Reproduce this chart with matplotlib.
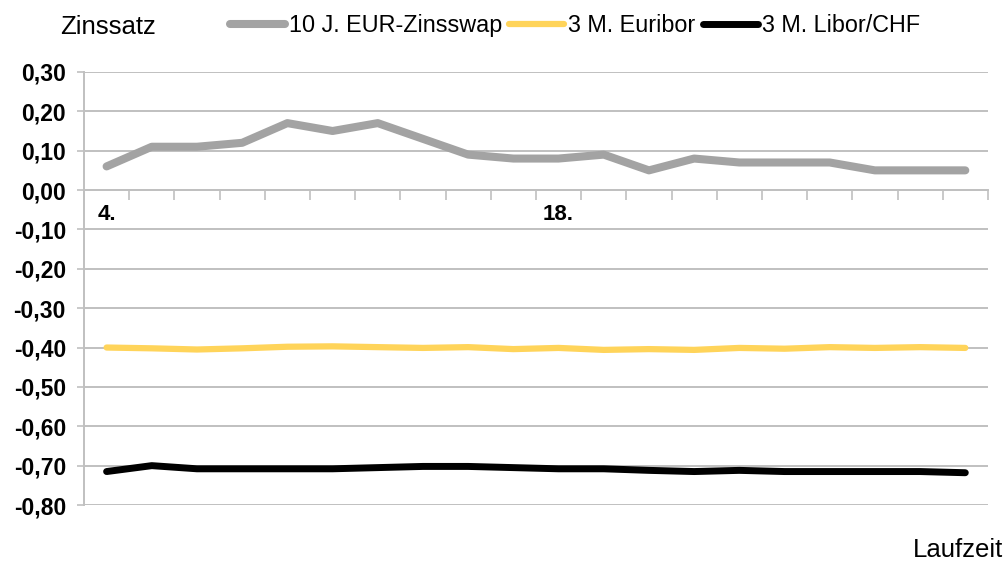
import matplotlib.pyplot as plt
from matplotlib.ticker import FixedLocator, FuncFormatter

plt.rcParams['font.family'] = ['Liberation Sans', 'DejaVu Sans']

# trading days of the month (x categories)
days = [4, 5, 6, 7, 8, 11, 12, 13, 14, 15, 18, 19, 20, 21, 22, 25, 26, 27, 28, 29]
label_days = [4, 18]

swap_10y = [0.06, 0.11, 0.11, 0.12, 0.17, 0.15, 0.17, 0.13, 0.09, 0.08,
            0.08, 0.09, 0.05, 0.08, 0.07, 0.07, 0.07, 0.05, 0.05, 0.05]
euribor_3m = [-0.400, -0.402, -0.405, -0.402, -0.398, -0.397, -0.399, -0.401, -0.399, -0.404,
              -0.401, -0.406, -0.404, -0.406, -0.401, -0.403, -0.399, -0.401, -0.399, -0.401]
libor_chf_3m = [-0.715, -0.700, -0.708, -0.708, -0.708, -0.708, -0.705, -0.702, -0.702, -0.705,
                -0.708, -0.708, -0.712, -0.715, -0.712, -0.715, -0.715, -0.715, -0.715, -0.718]

series = [
    ("10 J. EUR-Zinsswap", swap_10y, "#a3a3a3", 5.8),
    ("3 M. Euribor", euribor_3m, "#ffd45a", 4.5),
    ("3 M. Libor/CHF", libor_chf_3m, "#000000", 5.0),
]

fig = plt.figure(figsize=(10.06, 5.62), dpi=100)
ax = fig.add_axes([0.0835, 0.1014, 0.8985, 0.7706])

x = list(range(len(days)))
lines = []
for name, vals, col, lw in series:
    ln, = ax.plot(x, vals, color=col, lw=lw, solid_capstyle='round', solid_joinstyle='round', label=name, zorder=3)
    lines.append(ln)

ax.set_xlim(-0.5, len(days) - 0.5)
ax.set_ylim(-0.8, 0.3)

yt = [round(-0.8 + 0.1 * i, 1) for i in range(12)]
ax.set_yticks(yt)
ax.yaxis.set_major_formatter(FuncFormatter(lambda v, p: f"{v:.2f}".replace(".", ",")))
ax.grid(axis='y', color='#c0c0c0', lw=1.4, zorder=0)
ax.tick_params(axis='y', length=5, width=1.2, color='#c0c0c0', labelsize=16.5, pad=8)
for t in ax.get_yticklabels():
    t.set_fontweight('bold')

# x axis sits on zero line, ticks between categories
ax.spines['bottom'].set_position(('data', 0))
ax.spines['bottom'].set_color('#c0c0c0')
ax.spines['bottom'].set_linewidth(1.4)
ax.spines['left'].set_color('#c0c0c0')
ax.spines['left'].set_linewidth(1.4)
ax.spines['top'].set_visible(False)
ax.spines['right'].set_visible(False)

ax.xaxis.set_minor_locator(FixedLocator([i - 0.5 for i in range(len(days) + 1)]))
ax.set_xticks(x)
ax.set_xticklabels([f"{d}." if d in label_days else "" for d in days], fontweight='bold')
ax.tick_params(axis='x', which='major', length=0, labelsize=16, pad=10)
ax.tick_params(axis='x', which='minor', length=7, width=1.2, color='#c0c0c0', direction='out')

fig.text(0.06, 0.952, "Zinssatz", fontsize=18.5, va='center', ha='left')
fig.legend(handles=lines, loc='center left', bbox_to_anchor=(0.2286, 0.955), ncol=3,
           frameon=False, fontsize=16.8, handlelength=2.36, handletextpad=0.17,
           columnspacing=0.3, borderaxespad=0, borderpad=0)
fig.text(0.997, 0.021, "Laufzeit", fontsize=18.5, ha='right', va='center')

fig.savefig("out.png", dpi=100)
